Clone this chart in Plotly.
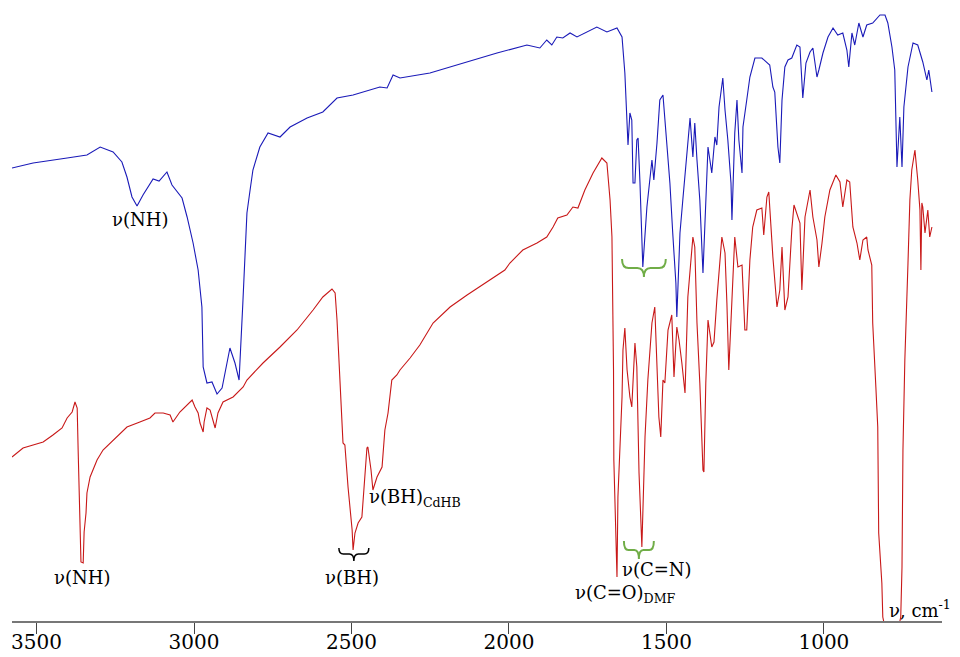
import plotly.graph_objects as go

# ---- data: wavenumber (cm-1) and transmittance (arbitrary units) ----
blue_nu = [3578, 3511, 3403, 3340, 3298, 3257, 3229, 3213, 3197, 3181, 3162, 3130, 3111, 3086, 3070, 3038,
           3022, 3003, 2987, 2975, 2971, 2959, 2943, 2927, 2911, 2886, 2870, 2857, 2845, 2832, 2822, 2813,
           2791, 2765, 2727, 2695, 2641, 2591, 2546, 2495, 2410, 2387, 2368, 2346, 2251, 2146, 2038, 1943,
           1902, 1880, 1864, 1848, 1829, 1806, 1784, 1721, 1689, 1657, 1641, 1632, 1626, 1622, 1616, 1610,
           1606, 1600, 1594, 1590, 1584, 1578, 1575, 1562, 1553, 1546, 1540, 1530, 1521, 1511, 1499, 1489,
           1480, 1470, 1467, 1457, 1448, 1435, 1425, 1416, 1410, 1403, 1394, 1384, 1378, 1368, 1356, 1346,
           1340, 1333, 1321, 1314, 1305, 1295, 1292, 1289, 1283, 1276, 1270, 1260, 1257, 1245, 1235, 1219,
           1197, 1172, 1162, 1156, 1146, 1140, 1133, 1124, 1114, 1102, 1086, 1076, 1070, 1067, 1057, 1044,
           1035, 1022, 1016, 1003, 987, 971, 956, 940, 927, 921, 911, 902, 889, 876, 864, 845,
           822, 806, 797, 784, 775, 768, 759, 752, 746, 733, 717, 702, 686, 673, 667, 657]
blue_T = [453, 458, 463, 466, 474, 469, 459, 444, 424, 415, 426, 442, 440, 449, 436, 423,
          404, 378, 351, 314, 254, 238, 239, 227, 233, 273, 258, 241, 318, 408, 431, 451,
          474, 488, 484, 494, 503, 509, 523, 526, 534, 533, 546, 543, 548, 558, 568, 576,
          573, 581, 576, 584, 583, 588, 584, 594, 589, 593, 584, 548, 508, 476, 508, 501,
          438, 438, 481, 483, 438, 388, 354, 414, 444, 461, 441, 478, 521, 526, 478, 438,
          388, 338, 304, 388, 421, 471, 503, 464, 498, 461, 421, 348, 401, 474, 448, 484,
          476, 514, 543, 511, 481, 438, 401, 438, 488, 521, 481, 448, 494, 521, 544, 563,
          563, 556, 534, 529, 474, 458, 521, 554, 561, 563, 576, 574, 531, 523, 558, 569,
          573, 544, 551, 568, 584, 593, 586, 588, 571, 554, 588, 576, 598, 584, 596, 598,
          606, 606, 598, 574, 551, 454, 504, 454, 514, 554, 578, 576, 559, 541, 551, 529]

red_nu = [3578, 3543, 3511, 3479, 3448, 3419, 3403, 3387, 3378, 3371, 3368, 3362, 3359, 3352, 3349, 3343,
          3340, 3330, 3308, 3289, 3257, 3213, 3172, 3140, 3124, 3098, 3076, 3067, 3045, 3006, 2997, 2987,
          2981, 2971, 2968, 2959, 2949, 2933, 2924, 2908, 2876, 2844, 2832, 2781, 2727, 2673, 2622, 2591,
          2562, 2552, 2546, 2540, 2533, 2527, 2521, 2511, 2498, 2495, 2489, 2479, 2467, 2463, 2451, 2448,
          2438, 2432, 2419, 2403, 2394, 2384, 2372, 2356, 2346, 2314, 2283, 2241, 2187, 2133, 2070, 2013,
          1997, 1956, 1911, 1880, 1860, 1845, 1816, 1797, 1781, 1759, 1733, 1705, 1689, 1679, 1673, 1670,
          1668, 1667, 1660, 1657, 1654, 1648, 1641, 1638, 1632, 1625, 1616, 1610, 1606, 1600, 1594, 1587,
          1578, 1575, 1568, 1559, 1546, 1537, 1530, 1524, 1518, 1511, 1505, 1495, 1483, 1476, 1467, 1460,
          1451, 1441, 1432, 1416, 1410, 1403, 1394, 1384, 1381, 1375, 1368, 1356, 1349, 1340, 1324, 1314,
          1308, 1302, 1292, 1283, 1273, 1260, 1251, 1245, 1235, 1226, 1213, 1197, 1191, 1181, 1175, 1162,
          1149, 1140, 1133, 1124, 1114, 1102, 1095, 1076, 1070, 1060, 1044, 1035, 1022, 1016, 1006, 997,
          981, 962, 949, 940, 927, 918, 908, 895, 886, 876, 864, 860, 848, 845, 835, 829,
          826, 816, 813, 784, 756, 752, 749, 743, 733, 727, 721, 711, 702, 695, 692, 689,
          686, 679, 670, 664, 657]
red_T = [164, 173, 176, 179, 186, 193, 203, 209, 219, 213, 171, 108, 59, 58, 89, 108,
         128, 144, 161, 171, 181, 194, 199, 203, 208, 208, 206, 199, 209, 221, 214, 208,
         198, 189, 199, 213, 211, 193, 208, 219, 224, 234, 241, 258, 274, 291, 311, 324,
         332, 328, 301, 264, 208, 178, 176, 134, 91, 71, 88, 98, 104, 124, 173, 174,
         151, 131, 144, 154, 191, 208, 241, 246, 251, 263, 276, 298, 314, 326, 339, 351,
         358, 371, 378, 384, 394, 403, 406, 414, 413, 431, 448, 463, 458, 421, 384, 328,
         251, 161, 93, 44, 124, 168, 224, 271, 293, 251, 224, 214, 244, 278, 254, 148,
         74, 108, 184, 241, 298, 314, 264, 204, 184, 241, 238, 291, 306, 244, 294, 281,
         258, 228, 324, 384, 374, 298, 238, 151, 149, 238, 301, 274, 279, 321, 384, 368,
         318, 251, 321, 384, 354, 356, 291, 291, 361, 394, 411, 413, 386, 424, 429, 364,
         314, 331, 374, 311, 324, 391, 416, 398, 331, 404, 431, 404, 381, 354, 378, 404,
         431, 446, 439, 414, 441, 439, 394, 378, 361, 381, 384, 371, 356, 298, 234, 194,
         88, 38, 4, -40, 4, 54, 171, 261, 358, 421, 451, 471, 441, 411, 351, 418,
         414, 388, 411, 384, 394]

tick_vals = [3500, 3000, 2500, 2000, 1500, 1000]
tick_text = ["3500", "3000", "2500", "2000", "1500", "1000"]

SERIF = "DejaVu Serif"
GREEN = "#70AD47"

fig = go.Figure()
fig.add_trace(go.Scatter(x=blue_nu, y=blue_T, mode="lines",
                         line=dict(color="#1a1ab8", width=1.1), showlegend=False))
fig.add_trace(go.Scatter(x=red_nu, y=red_T, mode="lines",
                         line=dict(color="#c81818", width=1.1), showlegend=False))


def brace(x1, x2, ytop, ymid, ybot, color, width):
    # x1 > x2 on the reversed wavenumber axis
    xc = (x1 + x2) / 2.0
    d = (x1 - x2) * 0.15
    path = (f"M {x1},{ytop} Q {x1},{ymid} {x1 - d},{ymid} "
            f"L {xc + d},{ymid} Q {xc},{ymid} {xc},{ybot} "
            f"Q {xc},{ymid} {xc - d},{ymid} "
            f"L {x2 + d},{ymid} Q {x2},{ymid} {x2},{ytop}")
    return dict(type="path", xref="x", yref="y", path=path,
                line=dict(color=color, width=width))


shapes = [
    brace(2540, 2445, 73, 67, 60, "black", 1.5),
    brace(1641, 1502, 362, 353, 344, GREEN, 2),
    brace(1635, 1540, 80, 71, 62, GREEN, 2),
]

ann_font = dict(family=SERIF, size=18, color="black")
annotations = [
    dict(x=3171, y=402, text="ν(NH)", xanchor="center", yanchor="middle"),
    dict(x=3356, y=44, text="ν(NH)", xanchor="center", yanchor="middle"),
    dict(x=2498, y=44, text="ν(BH)", xanchor="center", yanchor="middle"),
    dict(x=2451, y=123, text="ν(BH)<sub>CdHB</sub>", xanchor="left", yanchor="middle"),
    dict(x=1648, y=52, text="ν(C=N)", xanchor="left", yanchor="middle"),
    dict(x=1797, y=27, text="ν(C=O)<sub>DMF</sub>", xanchor="left", yanchor="middle"),
]
for a in annotations:
    a.update(xref="x", yref="y", showarrow=False, font=ann_font)

# axis title placed at the right end of the axis (paper x-reference so it is not hidden)
annotations.append(dict(x=1.012, xref="paper", y=12, yref="y", text="ν, cm<sup>-1</sup>",
                        xanchor="right", yanchor="middle", showarrow=False, font=ann_font))

fig.update_layout(
    width=960, height=657,
    margin=dict(l=12, r=18, t=0, b=36),
    paper_bgcolor="white", plot_bgcolor="white",
    font=dict(family=SERIF),
    shapes=shapes, annotations=annotations,
    xaxis=dict(range=[3578, 625], tickvals=tick_vals, ticktext=tick_text,
               ticks="outside", ticklen=11, tickcolor="#444", tickwidth=1,
               ticklabelstandoff=-9,
               showline=True, linecolor="#777", linewidth=1.5,
               showgrid=False, zeroline=False, automargin=False,
               tickfont=dict(family=SERIF, size=20, color="black")),
    yaxis=dict(range=[0, 621], visible=False, showgrid=False, zeroline=False,
               automargin=False),
)

fig.write_html("out.html")
